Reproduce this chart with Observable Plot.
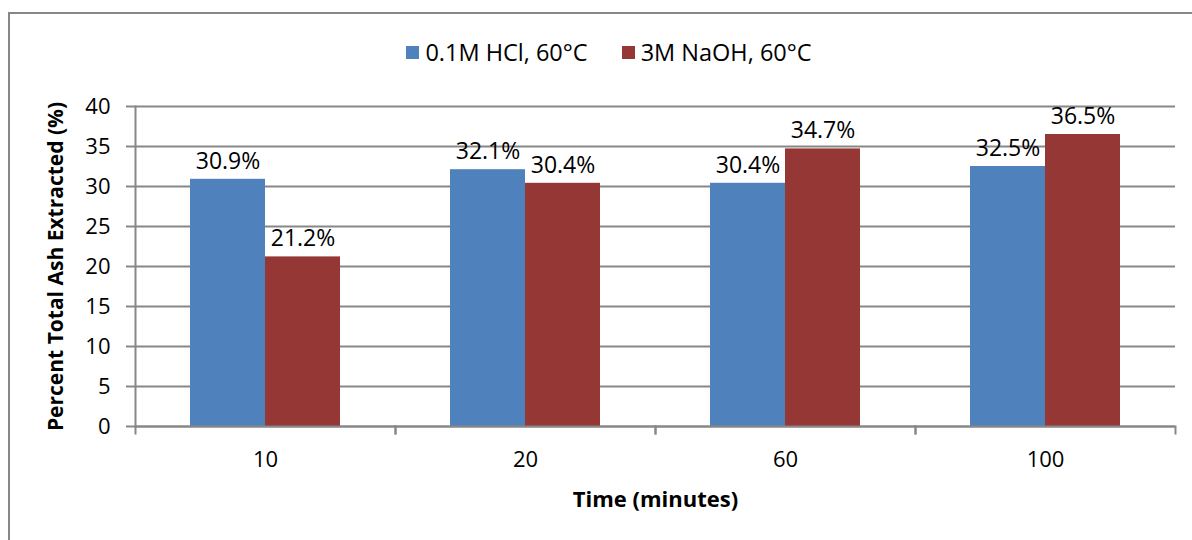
<!DOCTYPE html>
<html>
<head>
<meta charset="utf-8">
<script src="https://cdn.jsdelivr.net/npm/d3@7"></script>
<script src="https://cdn.jsdelivr.net/npm/@observablehq/plot@0.6"></script>
<style>
  html, body { margin: 0; padding: 0; background: #fff; }
  #wrap { position: relative; width: 1192px; height: 540px; overflow: hidden; font-family: "Open Sans", sans-serif; }
  #border { position: absolute; left: 8px; top: 12px; width: 1220px; height: 560px; border: 2px solid #878787; box-sizing: border-box; }
  #legend { position: relative; height: 95px; display: flex; justify-content: center; align-items: flex-start; padding-left: 26px; box-sizing: border-box; font-size: 23.5px; color: #000; }
  .item { display: flex; align-items: center; margin: 0 17px; margin-top: 36px; }
  .sw { width: 13px; height: 13px; margin-right: 6px; }
  #chart { position: relative; }
</style>
</head>
<body>
<div id="wrap">
  <div id="border"></div>
  <div id="legend"></div>
  <div id="chart"></div>
</div>
<script>
const times = ["10", "20", "60", "100"];
const series = ["0.1M HCl, 60°C", "3M NaOH, 60°C"];
const hcl = [30.9, 32.1, 30.4, 32.5];
const naoh = [21.2, 30.4, 34.7, 36.5];
const yTicks = [0, 5, 10, 15, 20, 25, 30, 35, 40];
const colors = ["#4F81BD", "#953735"];
const gridColor = "#878787";
const yTitle = "Percent Total Ash Extracted (%)";
const xTitle = "Time (minutes)";

const data = times.flatMap((t, i) => [
  {time: t, series: series[0], value: hcl[i]},
  {time: t, series: series[1], value: naoh[i]}
]);

const legend = document.getElementById("legend");
series.forEach((s, i) => {
  const it = document.createElement("div");
  it.className = "item";
  const sw = document.createElement("div");
  sw.className = "sw";
  sw.style.background = colors[i];
  const lb = document.createElement("span");
  lb.textContent = s;
  it.appendChild(sw);
  it.appendChild(lb);
  legend.appendChild(it);
});

const chart = Plot.plot({
  width: 1192,
  height: 445,
  marginTop: 11,
  marginBottom: 114,
  marginLeft: 135,
  marginRight: 17,
  style: {fontFamily: "'Open Sans', sans-serif", fontSize: "21px", color: "#000", background: "transparent", overflow: "visible"},
  fx: {domain: times, padding: 0},
  x: {domain: series, paddingInner: 0, paddingOuter: 0.733, axis: null},
  y: {domain: [0, 40]},
  color: {domain: series, range: colors},
  marks: [
    Plot.gridY(yTicks, {stroke: gridColor, strokeOpacity: 1, strokeWidth: 2}),
    Plot.barY(data, {fx: "time", x: "series", y: "value", fill: "series"}),
    Plot.text(data, {fx: "time", x: "series", y: "value", text: d => d.value.toFixed(1) + "%", dy: -18, fontSize: 23, fill: "#000"}),
    Plot.ruleY([0], {stroke: gridColor, strokeWidth: 2}),
    Plot.frame({anchor: "left", facetAnchor: "left", stroke: gridColor, strokeWidth: 2}),
    Plot.frame({anchor: "left", insetTop: 320, insetBottom: -7, stroke: gridColor, strokeWidth: 2}),
    Plot.frame({anchor: "right", insetTop: 320, insetBottom: -7, stroke: gridColor, strokeWidth: 2}),
    Plot.axisY(yTicks, {tickSize: 9, tickPadding: 16, stroke: gridColor, strokeWidth: 2, fill: "#000", fontSize: 22, label: yTitle, labelAnchor: "center", labelOffset: 87}),
    Plot.axisFx({anchor: "bottom", tickSize: 0, tickPadding: 25, fill: "#000", fontSize: 22, label: xTitle, labelAnchor: "center", labelOffset: 80})
  ]
});

d3.select(chart).selectAll('g[aria-label="y-axis label"] text')
  .attr("font-weight", "bold").attr("font-size", 21).text(yTitle);
d3.select(chart).selectAll('g[aria-label="fx-axis label"] text')
  .attr("font-weight", "bold").attr("font-size", 22).text(xTitle);

document.getElementById("chart").appendChild(chart);
</script>
</body>
</html>
